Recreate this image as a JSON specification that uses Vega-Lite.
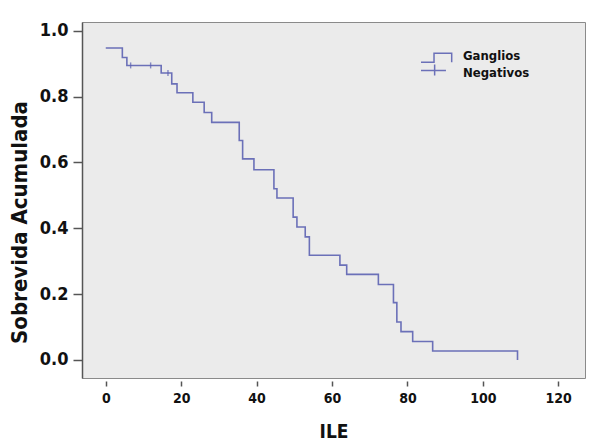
{
  "$schema": "https://vega.github.io/schema/vega-lite/v6.json",
  "width": 503,
  "height": 356,
  "autosize": {"type": "none"},
  "padding": {"left": 82, "top": 22, "right": 11, "bottom": 63},
  "background": "white",
  "config": {
    "view": {"fill": "#ebebeb", "stroke": "#8a8a8a", "strokeWidth": 1},
    "font": "DejaVu Sans Condensed, Liberation Sans, sans-serif",
    "axis": {"grid": false, "labelColor": "#111111", "titleColor": "#111111", "labelFont": "DejaVu Sans Condensed, Liberation Sans, sans-serif", "titleFont": "DejaVu Sans Condensed, Liberation Sans, sans-serif"}
  },
  "datasets": {
    "km": [
      {"t": 0, "S": 0.948, "grupo": "Ganglios Negativos"},
      {"t": 4.4, "S": 0.919, "grupo": "Ganglios Negativos"},
      {"t": 5.6, "S": 0.895, "grupo": "Ganglios Negativos"},
      {"t": 14.7, "S": 0.872, "grupo": "Ganglios Negativos"},
      {"t": 17.5, "S": 0.839, "grupo": "Ganglios Negativos"},
      {"t": 18.9, "S": 0.812, "grupo": "Ganglios Negativos"},
      {"t": 23.1, "S": 0.783, "grupo": "Ganglios Negativos"},
      {"t": 26.1, "S": 0.752, "grupo": "Ganglios Negativos"},
      {"t": 28.1, "S": 0.722, "grupo": "Ganglios Negativos"},
      {"t": 35.4, "S": 0.667, "grupo": "Ganglios Negativos"},
      {"t": 36.3, "S": 0.611, "grupo": "Ganglios Negativos"},
      {"t": 39.3, "S": 0.578, "grupo": "Ganglios Negativos"},
      {"t": 44.6, "S": 0.52, "grupo": "Ganglios Negativos"},
      {"t": 45.4, "S": 0.492, "grupo": "Ganglios Negativos"},
      {"t": 49.7, "S": 0.434, "grupo": "Ganglios Negativos"},
      {"t": 50.7, "S": 0.404, "grupo": "Ganglios Negativos"},
      {"t": 52.9, "S": 0.374, "grupo": "Ganglios Negativos"},
      {"t": 54.0, "S": 0.318, "grupo": "Ganglios Negativos"},
      {"t": 62.1, "S": 0.288, "grupo": "Ganglios Negativos"},
      {"t": 63.9, "S": 0.26, "grupo": "Ganglios Negativos"},
      {"t": 72.3, "S": 0.229, "grupo": "Ganglios Negativos"},
      {"t": 76.3, "S": 0.174, "grupo": "Ganglios Negativos"},
      {"t": 77.2, "S": 0.115, "grupo": "Ganglios Negativos"},
      {"t": 78.3, "S": 0.086, "grupo": "Ganglios Negativos"},
      {"t": 81.4, "S": 0.056, "grupo": "Ganglios Negativos"},
      {"t": 86.7, "S": 0.027, "grupo": "Ganglios Negativos"},
      {"t": 109.2, "S": 0.0, "grupo": "Ganglios Negativos"}
    ],
    "cens": [
      {"t": 6.6, "S": 0.895},
      {"t": 11.9, "S": 0.895},
      {"t": 16.5, "S": 0.872}
    ]
  },
  "layer": [
    {
      "data": {"name": "km"},
      "mark": {"type": "line", "interpolate": "step-after", "strokeWidth": 1.6},
      "encoding": {
        "x": {
          "field": "t", "type": "quantitative",
          "scale": {"domain": [-6.3, 127.1], "nice": false, "zero": false},
          "axis": {
            "values": [0, 20, 40, 60, 80, 100, 120],
            "title": "ILE",
            "domain": false,
            "offset": 3,
            "tickSize": 5,
            "tickWidth": 1.5,
            "tickColor": "#555555",
            "labelFontSize": 14,
            "labelFontWeight": "bold",
            "labelPadding": 5,
            "titleFontSize": 19,
            "titleFontWeight": "bold",
            "titlePadding": 17
          }
        },
        "y": {
          "field": "S", "type": "quantitative",
          "scale": {"domain": [-0.055, 1.027], "nice": false, "zero": false},
          "axis": {
            "values": [0, 0.2, 0.4, 0.6, 0.8, 1.0],
            "format": ".1f",
            "title": "Sobrevida Acumulada",
            "domain": true,
            "domainColor": "#555555",
            "domainWidth": 1.5,
            "tickSize": 9,
            "tickWidth": 1.5,
            "tickColor": "#555555",
            "labelFontSize": 18,
            "labelFontWeight": "bold",
            "labelPadding": 5,
            "titleFontSize": 22,
            "titleFontWeight": "bold",
            "titlePadding": 8,
            "titleY": 200
          }
        },
        "color": {
          "field": "grupo", "type": "nominal",
          "scale": {"range": ["#6b70b8"]},
          "legend": {
            "orient": "none",
            "legendX": 338,
            "legendY": 26,
            "title": null,
            "padding": 0,
            "symbolType": "M-1,-0.15H-0.16V-0.73H0.98V-0.15M-1,0.39H0.61M-0.12,0V0.71",
            "symbolSize": 961,
            "symbolStrokeWidth": 1.5,
            "labelExpr": "split(datum.label, ' ')",
            "labelFont": "DejaVu Sans Condensed, Liberation Sans, sans-serif",
            "labelFontSize": 13,
            "labelFontWeight": "bold",
            "labelColor": "#111111",
            "labelOffset": 10,
            "encode": {
              "symbols": {"update": {"stroke": {"value": "#3b4f9e"}, "fill": {"value": "transparent"}, "strokeWidth": {"value": 1.5}}},
              "labels": {"update": {"lineHeight": {"value": 17}, "dy": {"value": -9}}}
            }
          }
        }
      }
    },
    {
      "data": {"name": "cens"},
      "mark": {"type": "tick", "orient": "vertical", "size": 6, "thickness": 1.4, "color": "#5a5fb0"},
      "encoding": {
        "x": {"field": "t", "type": "quantitative"},
        "y": {"field": "S", "type": "quantitative"}
      }
    }
  ]
}
